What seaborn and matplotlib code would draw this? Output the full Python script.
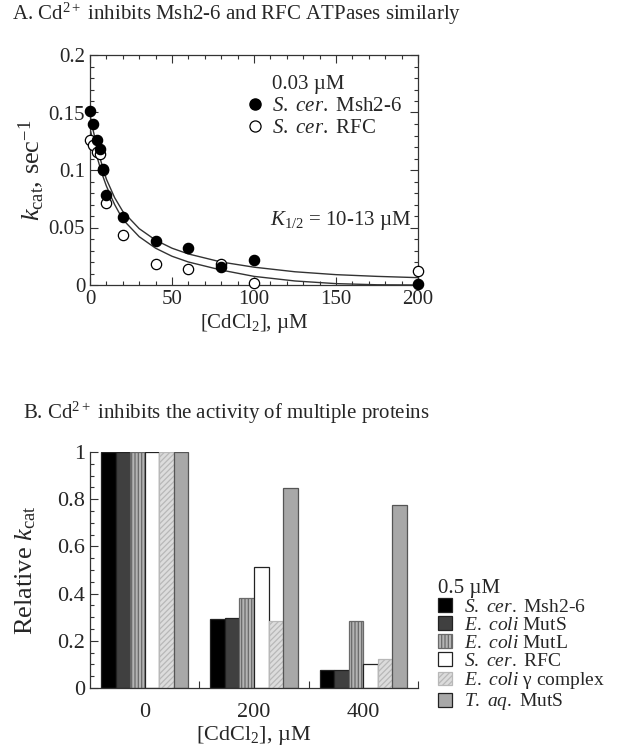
import matplotlib
matplotlib.use("Agg")
import matplotlib.pyplot as plt
import seaborn as sns
import pandas as pd
import numpy as np
from matplotlib.lines import Line2D
from matplotlib.patches import Patch
from matplotlib.ticker import MultipleLocator, FuncFormatter, FixedLocator

# ---------------- data: panel A ----------------
cd_conc = [0, 2, 4, 6, 8, 10, 20, 40, 60, 80, 100, 200]
msh26_kcat = [0.151, 0.140, 0.126, 0.118, 0.101, 0.078, 0.059, 0.038, 0.0325, 0.0155, 0.022, 0.0005]
rfc_conc = [0, 2, 4, 6, 8, 10, 20, 40, 60, 80, 100, 200]
rfc_kcat = [0.126, 0.122, 0.116, 0.114, 0.100, 0.071, 0.0435, 0.018, 0.014, 0.018, 0.0015, 0.0125]

fit_x = [0, 2, 4, 6, 8, 10, 15, 20, 30, 40, 50, 60, 80, 100, 125, 150, 175, 200]
fit_msh26 = [0.148, 0.134, 0.122, 0.111, 0.101, 0.092, 0.076, 0.064, 0.049, 0.039, 0.032, 0.027,
             0.020, 0.0155, 0.0115, 0.009, 0.0075, 0.0064]
fit_rfc = [0.136, 0.124, 0.113, 0.103, 0.094, 0.086, 0.070, 0.057, 0.042, 0.032, 0.025, 0.020,
           0.013, 0.0075, 0.0035, 0.0012, 0.0002, 0.0]

# ---------------- data: panel B ----------------
cd_levels = ["0", "200", "400"]
proteins = ["S. cer. Msh2-6", "E. coli MutS", "E. coli MutL", "S. cer. RFC",
            "E. coli γ complex", "T. aq. MutS"]
protein_labels = [r"$\mathit{S.\ cer.}$ Msh2-6", r"$\mathit{E.\ coli}$ MutS",
                  r"$\mathit{E.\ coli}$ MutL", r"$\mathit{S.\ cer.}$ RFC",
                  r"$\mathit{E.\ coli}$ γ complex", r"$\mathit{T.\ aq.}$ MutS"]
rel_msh26 = [1.0, 0.294, 0.078]
rel_muts = [1.0, 0.298, 0.078]
rel_mutl = [1.0, 0.380, 0.284]
rel_rfc = [1.0, 0.513, 0.102]
rel_gamma = [1.0, 0.284, 0.125]
rel_taq = [1.0, 0.848, 0.777]

bar_face = ["#000000", "#404040", "#b4b4b4", "#ffffff", "#dcdcdc", "#a8a8a8"]
bar_hatch = [None, None, "|||||", None, "//////", None]
bar_edge = ["#222222", "#222222", "#6a6a6a", "#222222", "#b8b8b8", "#555555"]

# ---------------- style ----------------
sns.set_theme(style="ticks")
plt.rcParams["font.family"] = ["Liberation Serif", "DejaVu Serif"]
plt.rcParams["mathtext.fontset"] = "custom"
plt.rcParams["mathtext.rm"] = "Liberation Serif"
plt.rcParams["mathtext.it"] = "Liberation Serif:italic"
plt.rcParams["mathtext.bf"] = "Liberation Serif:bold"
plt.rcParams["hatch.linewidth"] = 0.9
plt.rcParams["axes.linewidth"] = 0.9

fig = plt.figure(figsize=(6.18, 7.5), dpi=100)
W, H = 618.0, 750.0

def fx(px):
    return px / W

def fy(py):
    return 1 - py / H

TICK_FS = 15

# ---------------- panel A ----------------
axA = fig.add_axes([fx(90), fy(285), fx(418) - fx(90), fy(55) - fy(285)])
sns.lineplot(x=fit_x, y=fit_msh26, ax=axA, color="#333333", lw=1.0)
sns.lineplot(x=fit_x, y=fit_rfc, ax=axA, color="#333333", lw=1.0)
sns.scatterplot(x=rfc_conc, y=rfc_kcat, ax=axA, marker="o", s=55, facecolor="white",
                edgecolor="black", linewidth=0.9, zorder=3, clip_on=False)
sns.scatterplot(x=cd_conc, y=msh26_kcat, ax=axA, marker="o", s=55, color="black",
                edgecolor="black", linewidth=0.9, zorder=4, clip_on=False)
axA.set_xlim(0, 200)
axA.set_ylim(0, 0.2)
axA.xaxis.set_major_locator(MultipleLocator(50))
axA.xaxis.set_minor_locator(MultipleLocator(10))
axA.yaxis.set_major_locator(MultipleLocator(0.05))
axA.yaxis.set_minor_locator(MultipleLocator(0.01))
axA.yaxis.set_major_formatter(FuncFormatter(lambda v, p: "%g" % round(v, 3)))
axA.tick_params(which="both", direction="in", top=True, right=True, labelsize=TICK_FS,
                width=0.8, color="#333333")
axA.tick_params(which="major", length=6)
axA.tick_params(which="minor", length=3)
for s in axA.spines.values():
    s.set_visible(True)
    s.set_color("#333333")
axA.set_xlabel(r"[CdCl$_2$], µM", fontsize=15, labelpad=2)
axA.set_ylabel(r"$k_{\mathrm{cat}}$, sec$^{-1}$", fontsize=19, labelpad=2)

hA = [Line2D([], [], ls="", marker=""),
      Line2D([], [], ls="", marker="o", ms=8, mfc="black", mec="black"),
      Line2D([], [], ls="", marker="o", ms=8, mfc="white", mec="black", mew=0.9)]
lA = ["0.03 µM", r"$\mathit{S.\ cer.}$ Msh2-6", r"$\mathit{S.\ cer.}$ RFC"]
axA.legend(hA, lA, loc="upper left", bbox_to_anchor=(fx(234), fy(64)),
           bbox_transform=fig.transFigure, frameon=False, fontsize=15,
           handlelength=1.0, handletextpad=0.3, labelspacing=0.12, borderpad=0)
axA.text(0.98, 0.28, r"$K_{1/2}$ = 10-13 µM", transform=axA.transAxes, fontsize=15,
         ha="right", va="center")

# ---------------- panel B ----------------
rows = []
vals = [rel_msh26, rel_muts, rel_mutl, rel_rfc, rel_gamma, rel_taq]
for p, v in zip(proteins, vals):
    for c, val in zip(cd_levels, v):
        rows.append({"conc": c, "protein": p, "value": val})
df = pd.DataFrame(rows)

axB = fig.add_axes([fx(90), fy(688), fx(418) - fx(90), fy(452) - fy(688)])
sns.barplot(data=df, x="conc", y="value", hue="protein", order=cd_levels,
            hue_order=proteins, palette=bar_face, saturation=1, width=0.8,
            ax=axB, legend=False, errorbar=None, linewidth=0.9, edgecolor="#222222")
for i, cont in enumerate(axB.containers):
    for bar in cont:
        bar.set_facecolor(bar_face[i])
        bar.set_edgecolor(bar_edge[i])
        if bar_hatch[i]:
            bar.set_hatch(bar_hatch[i])

axB.set_xlim(-0.5, 2.5)
axB.set_ylim(0, 1.0)
axB.yaxis.set_major_locator(MultipleLocator(0.2))
axB.yaxis.set_minor_locator(MultipleLocator(0.05))
axB.yaxis.set_major_formatter(FuncFormatter(lambda v, p: "%g" % round(v, 3)))
axB.xaxis.set_minor_locator(FixedLocator([0.5, 1.5, 2.5]))
axB.tick_params(axis="y", which="both", direction="in", labelsize=TICK_FS + 1,
                width=0.8, color="#333333")
axB.tick_params(axis="y", which="major", length=6)
axB.tick_params(axis="y", which="minor", length=3)
axB.tick_params(axis="x", which="major", length=0, labelsize=TICK_FS + 1, pad=11)
axB.tick_params(axis="x", which="minor", direction="in", length=5, width=0.8,
                color="#333333")
sns.despine(ax=axB)
for s in ["left", "bottom"]:
    axB.spines[s].set_color("#333333")
axB.set_xlabel(r"[CdCl$_2$], µM", fontsize=16, labelpad=1)
axB.set_ylabel(r"Relative $k_{\mathrm{cat}}$", fontsize=19, labelpad=14)

hB = [Patch(facecolor=bar_face[i], edgecolor=bar_edge[i] if bar_hatch[i] else "#222222",
            hatch=bar_hatch[i], linewidth=0.9) for i in range(len(proteins))]
axB.legend(hB, protein_labels, title="0.5 µM", alignment="left",
           loc="upper left", bbox_to_anchor=(fx(428), fy(569)),
           bbox_transform=fig.transFigure, frameon=False, fontsize=14,
           title_fontsize=15, handlelength=0.75, handleheight=0.7,
           handletextpad=0.6, labelspacing=0.02, borderpad=0)

# ---------------- titles ----------------
fig.text(fx(12), fy(14), r"A. Cd$^{2+}$ inhibits Msh2-6 and RFC ATPases similarly",
         fontsize=15, ha="left", va="center")
fig.text(fx(23), fy(413), r"B. Cd$^{2+}$ inhibits the activity of multiple proteins",
         fontsize=15, ha="left", va="center")

fig.savefig("out.png", dpi=100)
